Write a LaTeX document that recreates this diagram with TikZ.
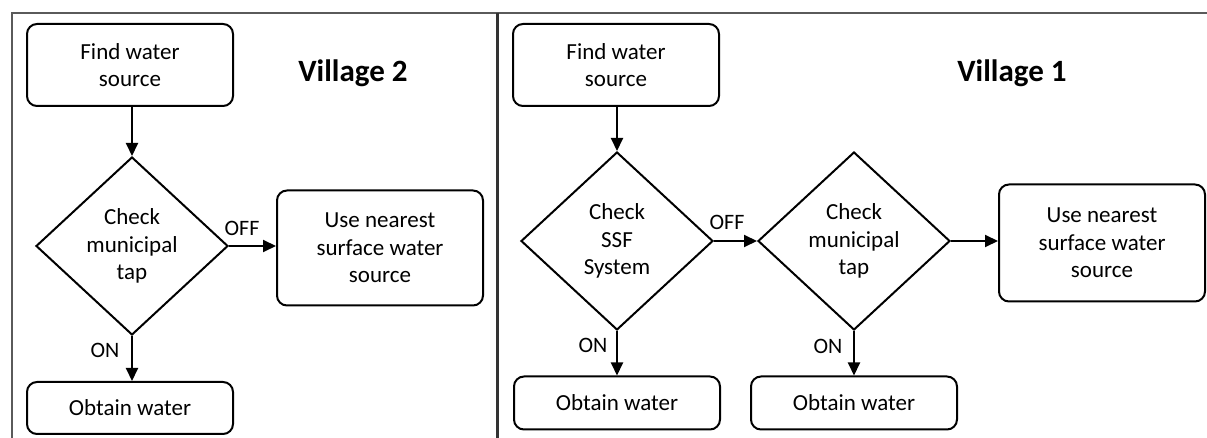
\documentclass[tikz,border=0pt]{standalone}
\usepackage{fontspec}
\setmainfont{Carlito}
\usetikzlibrary{positioning}
\usetikzlibrary{arrows.meta}
\usetikzlibrary{shapes}
\definecolor{frame}{RGB}{90,90,90}

\tikzset{
  proc/.style = {draw, rounded corners=5pt, line width=1pt, align=center, inner sep=0pt,
                 minimum width=103pt, font=\fontsize{11.5}{13.8}\selectfont},
  decide/.style = {draw, diamond, line width=1pt, align=center, inner sep=0pt,
                   minimum width=96pt, minimum height=89pt, font=\fontsize{11.5}{13.8}\selectfont},
  lbl/.style = {font=\fontsize{11}{12}\selectfont, inner sep=0pt},
  title/.style = {font=\fontsize{15.5}{17}\selectfont\bfseries, inner sep=0pt},
  flow/.style = {-{Triangle[length=6.5pt,width=6pt]}, line width=1pt}
}

\begin{document}
\begin{tikzpicture}[x=0.5pt, y=-0.5pt]
    \useasboundingbox (0,0) rectangle (1207,438);

    % draw frame
    \draw[frame, line width=1.2pt] (12,438) -- (12,13) -- (1207,13);
    \draw[black!80, line width=1.5pt] (497,13) -- (497,438);

    % village 2
    \node[proc, minimum height=41pt] (find2) at (130,65) {Find water\\source};
    \node[decide] (tap2) at (132,246) {Check\\municipal\\tap};
    \node[proc, minimum height=57.5pt] (surf2) at (380,248) {Use nearest\\surface water\\source};
    \node[proc, minimum height=26pt] (obtain2) at (130,408) {Obtain water};
    \node[title] (v2) at (353,73) {Village 2};

    \draw[flow] (find2.south -| tap2.north) -- (tap2.north);
    \draw[flow] (tap2.east) -- (tap2.east -| surf2.west);
    \draw[flow] (tap2.south) -- (tap2.south |- obtain2.north);
    \node[lbl] (off2) at (242,228) {OFF};
    \node[lbl] (on2) at (105,350) {ON};

    % village 1
    \node[proc, minimum height=41pt] (find1) at (616,65) {Find water\\source};
    \node[decide] (ssf1) at (617,241) {Check\\SSF\\System};
    \node[decide] (tap1) at (854,241) {Check\\municipal\\tap};
    \node[proc, minimum height=58.5pt] (surf1) at (1102,243) {Use nearest\\surface water\\source};
    \node[proc, minimum height=26.5pt] (obtain1) at (617,403) {Obtain water};
    \node[proc, minimum height=26.5pt] (obtain3) at (854,403) {Obtain water};
    \node[title] (v1) at (1012,73) {Village 1};

    \draw[flow] (find1.south -| ssf1.north) -- (ssf1.north);
    \draw[flow] (ssf1.east) -- (tap1.west);
    \draw[flow] (tap1.east) -- (tap1.east -| surf1.west);
    \draw[flow] (ssf1.south) -- (obtain1.north);
    \draw[flow] (tap1.south) -- (obtain3.north);
    \node[lbl] (off1) at (727,222) {OFF};
    \node[lbl] (on1) at (593,345) {ON};
    \node[lbl] (on3) at (828,346) {ON};

\end{tikzpicture}
\end{document}
